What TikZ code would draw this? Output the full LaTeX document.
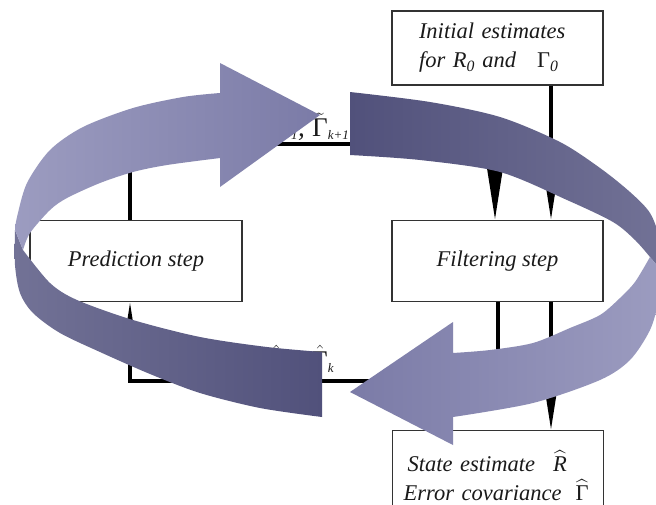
\documentclass[tikz,border=0pt]{standalone}
\usepackage{amsmath}
\usepackage{fontspec}
\setmainfont{Liberation Serif}
\usetikzlibrary{arrows.meta}
\newcommand{\Rit}{\text{\itshape R}}
\newcommand{\Gup}{\text{\upshape Γ}}
\newcommand{\subsc}[1]{\mbox{\fontsize{13}{13}\selectfont\itshape #1}}
\definecolor{cAdt}{HTML}{51517B}
\definecolor{cAdl}{HTML}{727296}
\definecolor{cAl}{HTML}{9C9CC0}
\definecolor{cAm}{HTML}{7B7BA7}
\definecolor{txt}{HTML}{1A1A1A}
\begin{document}
\begin{tikzpicture}[x=1pt,y=-1pt,
  box/.style={draw=black!80, line width=1.3pt, fill=white, inner sep=0pt,
    font=\fontsize{22.5}{29}\selectfont\itshape, text=txt},
  conn/.style={line width=3.5pt, black},
  tipend/.style={-{Triangle[length=58pt,width=17pt]}},
  lab/.style={inner sep=0pt, font=\fontsize{27}{28}\selectfont\itshape, text=txt}]
\useasboundingbox (0,0) rectangle (656,504);
\clip (0,0) rectangle (656,504);
\fill[white] (0,0) rectangle (656,504);
% boxes
\node[box, minimum width=211pt, minimum height=74pt, text width=157pt, align=left] (init) at (497.5,48)
  {Initial estimates\\for $\Rit_{\text{\itshape 0}}$ and\hspace{21pt}$\Gup_{\text{\itshape 0}}$};
\node[box, minimum width=211pt, minimum height=81pt] (filt) at (497.5,261) {Filtering step};
\node[box, minimum width=212pt, minimum height=81pt] (pred) at (136,261) {Prediction step};
\node[box, anchor=north west, minimum width=211pt, minimum height=90pt, text width=189pt, align=left] (state) at (392,430)
  {\hspace*{4pt}State estimate\hspace{18pt}$\widehat{\Rit}$\\Error covariance\hspace{14pt}$\widehat{\Gup}$};
% junction coordinates
\coordinate (tl) at (130,144);
\coordinate (tr) at (495,144);
\coordinate (bl) at (130,381);
\coordinate (br) at (498,381);
\coordinate (ax) at (551,0);
% connectors
\draw[conn,tipend] (init.south -| ax) -- (filt.north -| ax);
\draw[conn,tipend] (pred.north -| tl) -- (tl) -- (tr) -- (filt.north -| tr);
\draw[conn,tipend] (filt.south -| br) -- (br) -- (bl) -- (pred.south -| bl);
\draw[conn,tipend] (filt.south -| ax) -- (state.north -| ax);
% labels
\node[lab, anchor=base east] (ltr) at (305,136) {$\tilde{\Rit}_{\subsc{k+1}}$,};
\node[lab, anchor=base west] (ltg) at (312,136) {$\tilde{\Gup}_{\subsc{k+1}}$};
\node[lab, anchor=base west] (lbr) at (268,369) {$\hat{\Rit}_{\subsc{k}}$,};
\node[lab, anchor=base west] (lbg) at (312,369) {$\hat{\Gup}_{\subsc{k}}$};
% circular arrow A (tail bottom, head top)
\shade[left color=cAdl, right color=cAdt]
  (15,230) -- (23,250)
  -- plot[smooth] coordinates {(23,250) (50,283) (77,300) (133,320) (200,337) (267,347) (322,352)}
  -- (322,417)
  -- plot[smooth] coordinates {(322,417) (260,408) (200,393) (150,374) (100,352) (60,333) (33,313) (20,293) (15,265) (15,230)}
  -- cycle;
\shade[left color=cAl, right color=cAm]
  (220,63) -- (320,115) -- (220,187) -- (220,158)
  -- plot[smooth] coordinates {(220,158) (167,165) (133,172) (100,183) (67,198) (50,210) (30,233) (23,250)}
  -- (15,230)
  -- plot[smooth] coordinates {(15,230) (17,217) (27,183) (50,150) (83,127) (133,108) (183,97) (220,93)}
  -- cycle;
% circular arrow B (tail top, head bottom)
\shade[left color=cAdt, right color=cAdl]
  (350,92)
  -- plot[smooth] coordinates {(350,92) (430,102) (500,117) (560,142) (600,168) (630,192) (650,213) (660,240) (664,274)}
  -- (650,257)
  -- plot[smooth] coordinates {(650,257) (635,240) (613,222) (567,200) (500,172) (420,160) (350,155)}
  -- cycle;
\shade[left color=cAm, right color=cAl]
  (453,322) -- (350,392) -- (453,445) -- (453,417)
  -- plot[smooth] coordinates {(453,417) (533,403) (600,380) (630,360) (650,330) (659,300) (664,274)}
  -- (650,257)
  -- plot[smooth] coordinates {(650,257) (635,282) (620,298) (600,315) (570,328) (533,343) (490,350) (453,353)}
  -- cycle;
\end{tikzpicture}
\end{document}
